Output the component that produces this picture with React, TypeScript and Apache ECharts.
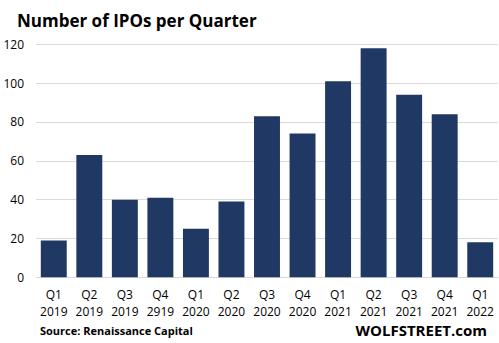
import React, { useEffect, useRef } from "react";
import * as echarts from "echarts";

const quarters = ["Q1", "Q2", "Q3", "Q4", "Q1", "Q2", "Q3", "Q4", "Q1", "Q2", "Q3", "Q4", "Q1"];
const years = ["2019", "2019", "2019", "2919", "2020", "2020", "2020", "2020", "2021", "2021", "2021", "2021", "2022"];
const ipoCounts = [19, 63, 40, 41, 25, 39, 83, 74, 101, 118, 94, 84, 18];
const yTicks = [0, 20, 40, 60, 80, 100, 120];

const titleText = "Number of IPOs per Quarter";
const sourceText = "Source: Renaissance Capital";
const brandText = "WOLFSTREET.com";

export default function App() {
  const ref = useRef<HTMLDivElement>(null);
  useEffect(() => {
    if (!ref.current) return;
    const chart = echarts.init(ref.current, null, { renderer: "svg" });
    const categories = quarters.map((q, i) => q + "\n" + years[i]);
    const font = "'Open Sans', 'Noto Sans', sans-serif";
    chart.setOption({
      animation: false,
      backgroundColor: "#ffffff",
      textStyle: { fontFamily: font },
      title: {
        text: titleText,
        left: 12,
        top: 7,
        textStyle: { fontSize: 17, fontWeight: "bold", color: "#000000", fontFamily: font },
      },
      grid: { left: 36, right: 1, top: 44.3, bottom: 65.7, containLabel: false },
      xAxis: {
        type: "category",
        data: categories,
        axisLine: { show: true, lineStyle: { color: "#d9d9d9", width: 1 } },
        axisTick: { show: false },
        axisLabel: {
          color: "#000000",
          fontSize: 12,
          lineHeight: 17,
          margin: 9,
          interval: 0,
          fontFamily: font,
        },
      },
      yAxis: {
        type: "value",
        min: yTicks[0],
        max: yTicks[yTicks.length - 1],
        interval: 20,
        axisLine: { show: false },
        axisTick: { show: false },
        splitLine: { lineStyle: { color: "#d9d9d9", width: 1 } },
        axisLabel: { color: "#000000", fontSize: 12, margin: 12, fontFamily: font },
      },
      series: [
        {
          type: "bar",
          data: ipoCounts,
          barCategoryGap: "27%",
          itemStyle: { color: "#203864" },
        },
      ],
      graphic: [
        {
          type: "text",
          left: 40,
          top: 325,
          style: { text: sourceText, font: `bold 11px ${font}`, fill: "#000000" },
        },
        {
          type: "text",
          right: 12,
          top: 322,
          style: { text: brandText, font: `bold 15px ${font}`, fill: "#000000" },
        },
      ],
    });
    return () => chart.dispose();
  }, []);
  return (
    <div
      ref={ref}
      style={{ position: "fixed", left: 0, top: 0, width: 499, height: 343 }}
    />
  );
}
